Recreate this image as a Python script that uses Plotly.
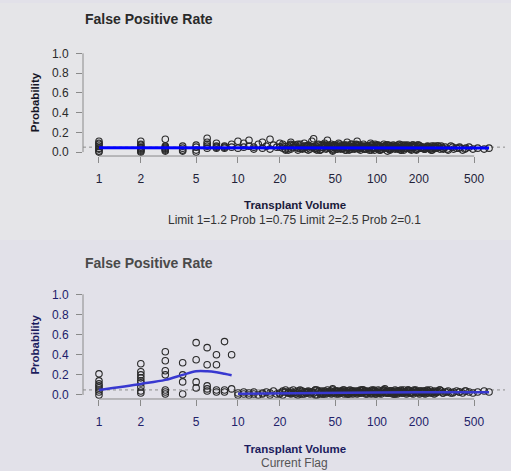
import plotly.graph_objects as go

# ---------------- data ----------------
small_volume = [1, 1, 1, 1, 1, 1, 1, 1,
                2, 2, 2, 2, 2, 2, 2, 2, 2,
                3, 3, 3, 3, 3, 3, 3,
                4, 4, 4, 4,
                5, 5, 5, 5,
                6, 6, 6, 6, 6,
                7, 7, 7, 7,
                8, 8, 8,
                9, 9]
small_rate_top = [0.11, 0.09, 0.08, 0.06, 0.04, 0.03, 0.01, 0.0,
                  0.11, 0.08, 0.07, 0.05, 0.04, 0.03, 0.02, 0.01, 0.0,
                  0.13, 0.06, 0.05, 0.04, 0.03, 0.02, 0.01,
                  0.06, 0.04, 0.02, 0.01,
                  0.07, 0.05, 0.02, 0.0,
                  0.14, 0.10, 0.08, 0.06, 0.04,
                  0.09, 0.06, 0.05, 0.04,
                  0.06, 0.05, 0.04,
                  0.08, 0.05]
small_rate_bottom = [0.21, 0.14, 0.11, 0.09, 0.07, 0.05, 0.03, 0.0,
                     0.31, 0.23, 0.20, 0.17, 0.14, 0.12, 0.08, 0.04, 0.02,
                     0.43, 0.34, 0.24, 0.20, 0.05, 0.03, 0.01,
                     0.32, 0.20, 0.13, 0.01,
                     0.52, 0.35, 0.13, 0.07,
                     0.47, 0.30, 0.09, 0.06, 0.04,
                     0.40, 0.30, 0.05, 0.03,
                     0.53, 0.05, 0.03,
                     0.40, 0.06]

cloud_volume_a = [10, 10, 11, 11, 12, 12, 13, 13, 14, 15,
                  15, 16, 17, 17, 18, 19, 20, 21, 21, 22,
                  23, 24, 24, 25, 26, 27, 27, 28, 29, 30,
                  31, 32, 33, 34, 35, 36, 37, 38, 39, 40,
                  41, 42, 43, 44, 45, 46, 47, 48, 49, 50,
                  52, 53, 55, 56, 58, 59, 61, 62, 64, 66,
                  68, 70, 72, 74, 76, 78, 80, 82, 85, 87,
                  90, 93, 96, 99, 102, 105, 108, 112, 115, 119,
                  123, 127, 131, 135, 140, 145, 150, 155, 160, 166,
                  172, 178, 185, 192, 199, 206, 214, 222, 231, 240,
                  250, 260, 272, 284, 297, 310, 325, 340, 356, 374,
                  393, 413, 436, 460, 490, 530, 590, 640]
cloud_rate_top_a = [0.11, 0.04, 0.09, 0.05, 0.12, 0.06, 0.05, 0.03, 0.08, 0.04,
                    0.10, 0.06, 0.13, 0.03, 0.07, 0.05, 0.09, 0.04, 0.08, 0.02,
                    0.06, 0.10, 0.03, 0.07, 0.05, 0.08, 0.02, 0.06, 0.04, 0.09,
                    0.05, 0.07, 0.03, 0.11, 0.135, 0.06, 0.04, 0.08, 0.02, 0.07,
                    0.05, 0.09, 0.03, 0.12, 0.06, 0.04, 0.08, 0.01, 0.05, 0.07,
                    0.03, 0.09, 0.06, 0.04, 0.07, 0.02, 0.10, 0.05, 0.03, 0.08,
                    0.06, 0.04, 0.11, 0.07, 0.02, 0.05, 0.08, 0.03, 0.06, 0.04,
                    0.09, 0.05, 0.02, 0.07, 0.04, 0.06, 0.03, 0.08, 0.05, 0.01,
                    0.06, 0.04, 0.07, 0.03, 0.05, 0.08, 0.02, 0.06, 0.04, 0.07,
                    0.03, 0.05, 0.06, 0.02, 0.07, 0.04, 0.05, 0.03, 0.06, 0.04,
                    0.02, 0.05, 0.06, 0.03, 0.04, 0.05, 0.02, 0.06, 0.03, 0.04,
                    0.05, 0.02, 0.04, 0.05, 0.03, 0.04, 0.03, 0.04]
cloud_rate_bottom_a = [0.02, 0.0, 0.03, 0.01, 0.0, 0.02, 0.01, 0.03, 0.0, 0.02,
                       0.01, 0.03, 0.0, 0.02, 0.04, 0.01, 0.02, 0.03, 0.0, 0.05,
                       0.02, 0.01, 0.04, 0.02, 0.03, 0.0, 0.02, 0.05, 0.01, 0.03,
                       0.02, 0.04, 0.01, 0.03, 0.02, 0.05, 0.0, 0.03, 0.02, 0.04,
                       0.01, 0.03, 0.02, 0.05, 0.02, 0.04, 0.01, 0.03, 0.02, 0.04,
                       0.03, 0.01, 0.04, 0.02, 0.05, 0.03, 0.01, 0.02, 0.04, 0.03,
                       0.02, 0.04, 0.01, 0.03, 0.05, 0.02, 0.03, 0.04, 0.01, 0.03,
                       0.02, 0.04, 0.03, 0.01, 0.05, 0.02, 0.03, 0.04, 0.02, 0.03,
                       0.04, 0.02, 0.03, 0.05, 0.01, 0.03, 0.04, 0.02, 0.03, 0.04,
                       0.02, 0.03, 0.05, 0.03, 0.02, 0.04, 0.03, 0.01, 0.04, 0.03,
                       0.02, 0.04, 0.03, 0.05, 0.02, 0.03, 0.04, 0.02, 0.03, 0.04,
                       0.03, 0.02, 0.04, 0.03, 0.02, 0.03, 0.04, 0.03]

cloud_volume_b = [23, 26, 29, 31, 34, 37, 41, 44, 47, 51,
                  54, 57, 60, 63, 67, 71, 75, 79, 84, 88,
                  92, 97, 101, 106, 111, 117, 122, 128, 134, 141,
                  148, 156, 164, 173, 182, 193, 204, 217, 230, 245,
                  265, 290, 320, 350, 390, 430]
cloud_rate_top_b = [0.04, 0.07, 0.03, 0.06, 0.05, 0.02, 0.07, 0.04, 0.06, 0.03,
                    0.06, 0.04, 0.07, 0.02, 0.05, 0.08, 0.04, 0.06, 0.03, 0.05,
                    0.07, 0.04, 0.06, 0.02, 0.05, 0.07, 0.03, 0.05, 0.06, 0.04,
                    0.02, 0.06, 0.04, 0.05, 0.07, 0.03, 0.06, 0.04, 0.05, 0.02,
                    0.04, 0.06, 0.03, 0.05, 0.04, 0.03]
cloud_rate_bottom_b = [0.03, 0.01, 0.04, 0.02, 0.03, 0.05, 0.01, 0.03, 0.02, 0.04,
                       0.02, 0.05, 0.03, 0.01, 0.04, 0.02, 0.03, 0.05, 0.02, 0.03,
                       0.04, 0.01, 0.03, 0.02, 0.05, 0.03, 0.02, 0.04, 0.01, 0.03,
                       0.03, 0.05, 0.02, 0.04, 0.01, 0.03, 0.04, 0.02, 0.05, 0.03,
                       0.02, 0.04, 0.03, 0.02, 0.03, 0.04]

cloud_volume_c = [20, 22, 24, 27, 30, 32, 35, 38, 40, 43,
                  46, 49, 52, 55, 58, 62, 65, 69, 73, 77,
                  81, 86, 91, 95, 100, 104, 110, 116, 121, 126,
                  132, 138, 144, 152, 158, 168, 176, 188, 198, 210,
                  220, 236, 255, 275, 300]
cloud_rate_top_c = [0.05, 0.03, 0.08, 0.04, 0.06, 0.02, 0.05, 0.07, 0.03, 0.06,
                    0.04, 0.07, 0.05, 0.03, 0.06, 0.04, 0.08, 0.03, 0.05, 0.06,
                    0.03, 0.05, 0.07, 0.04, 0.06, 0.02, 0.05, 0.04, 0.07, 0.03,
                    0.05, 0.06, 0.03, 0.04, 0.07, 0.05, 0.03, 0.06, 0.04, 0.05,
                    0.03, 0.05, 0.04, 0.06, 0.03]
cloud_rate_bottom_c = [0.01, 0.03, 0.02, 0.04, 0.01, 0.03, 0.02, 0.04, 0.03, 0.01,
                       0.03, 0.02, 0.04, 0.03, 0.01, 0.04, 0.02, 0.03, 0.04, 0.02,
                       0.03, 0.04, 0.02, 0.05, 0.03, 0.02, 0.04, 0.03, 0.02, 0.04,
                       0.02, 0.03, 0.04, 0.02, 0.03, 0.05, 0.02, 0.04, 0.03, 0.02,
                       0.04, 0.02, 0.03, 0.04, 0.02]

cloud_volume_d = [21, 23, 25, 28, 31, 33, 36, 39, 42, 45,
                  48, 51, 54, 57, 60, 64, 67, 71, 74, 78,
                  83, 88, 92, 97, 103, 107, 113, 118, 124, 130,
                  136, 142, 149, 156, 163, 170, 180, 190, 202, 215,
                  228, 242, 258, 270, 282]
cloud_rate_top_d = [0.06, 0.02, 0.05, 0.08, 0.03, 0.06, 0.04, 0.02, 0.07, 0.05,
                    0.03, 0.06, 0.08, 0.04, 0.02, 0.06, 0.05, 0.07, 0.03, 0.05,
                    0.06, 0.02, 0.04, 0.08, 0.05, 0.03, 0.06, 0.07, 0.02, 0.05,
                    0.04, 0.07, 0.05, 0.02, 0.06, 0.04, 0.07, 0.03, 0.06, 0.04,
                    0.05, 0.03, 0.06, 0.04, 0.05]
cloud_rate_bottom_d = [0.04, 0.02, 0.05, 0.01, 0.03, 0.02, 0.05, 0.01, 0.04, 0.02,
                       0.05, 0.01, 0.03, 0.04, 0.02, 0.05, 0.01, 0.03, 0.02, 0.05,
                       0.01, 0.03, 0.05, 0.02, 0.04, 0.01, 0.05, 0.02, 0.04, 0.01,
                       0.04, 0.02, 0.05, 0.03, 0.01, 0.04, 0.02, 0.05, 0.01, 0.04,
                       0.02, 0.05, 0.01, 0.03, 0.05]

cloud_volume_e = [24, 28, 32, 36, 40, 44, 48, 53, 57, 62,
                  66, 70, 75, 80, 86, 91, 96, 102, 108, 114,
                  120, 127, 134, 142, 150, 158, 167, 177, 186, 196,
                  208, 218, 232, 248, 262]
cloud_rate_top_e = [0.07, 0.04, 0.06, 0.03, 0.05, 0.07, 0.02, 0.04, 0.06, 0.05,
                    0.03, 0.07, 0.05, 0.04, 0.06, 0.02, 0.05, 0.07, 0.03, 0.06,
                    0.04, 0.06, 0.05, 0.03, 0.07, 0.04, 0.06, 0.02, 0.05, 0.07,
                    0.04, 0.03, 0.05, 0.06, 0.04]
cloud_rate_bottom_e = [0.02, 0.04, 0.03, 0.0, 0.02, 0.03, 0.06, 0.02, 0.03, 0.01,
                       0.04, 0.03, 0.02, 0.05, 0.03, 0.01, 0.04, 0.02, 0.03, 0.06,
                       0.02, 0.03, 0.01, 0.04, 0.02, 0.03, 0.05, 0.02, 0.04, 0.03,
                       0.03, 0.02, 0.04, 0.02, 0.03]

smooth_top_volume = [1, 2, 5, 10, 20, 50, 100, 200, 640]
smooth_top_rate = [0.043, 0.043, 0.044, 0.044, 0.044, 0.043, 0.043, 0.042, 0.041]

smooth_low_volume = [1, 2, 3, 4, 5, 6, 7, 8, 9]
smooth_low_rate = [0.05, 0.11, 0.15, 0.20, 0.235, 0.235, 0.225, 0.21, 0.195]
smooth_high_volume = [10, 20, 50, 100, 200, 400, 640]
smooth_high_rate = [0.013, 0.018, 0.022, 0.024, 0.026, 0.027, 0.028]

reference_rate = 0.05
x_tick_values = [1, 2, 5, 10, 20, 50, 100, 200, 500]
x_tick_labels = ["1", "2", "5", "10", "20", "50", "100", "200", "500"]
y_tick_values = [0, 0.2, 0.4, 0.6, 0.8, 1.0]
y_tick_labels = ["0.0", "0.2", "0.4", "0.6", "0.8", "1.0"]

panel_titles = ["False Positive Rate", "False Positive Rate"]
x_title = "Transplant Volume"
y_title = "Probability"
subtitles = ["Limit 1=1.2 Prob 1=0.75 Limit 2=2.5 Prob 2=0.1", "Current Flag"]

# ---------------- layout helpers ----------------
W, H = 511, 471
FONT = "Liberation Sans, Arial, sans-serif"
PAPER = "#e2e1e9"


def px(x):
    return x / W


def py(y):
    return 1 - y / H


fig = go.Figure()

marker_style = dict(symbol="circle-open", size=6.5, color="#2a2a2a", line=dict(width=1.1, color="#2a2a2a"))

all_volume = small_volume + cloud_volume_a + cloud_volume_b + cloud_volume_c + cloud_volume_d + cloud_volume_e
all_top = small_rate_top + cloud_rate_top_a + cloud_rate_top_b + cloud_rate_top_c + cloud_rate_top_d + cloud_rate_top_e
all_bottom = (small_rate_bottom + cloud_rate_bottom_a + cloud_rate_bottom_b + cloud_rate_bottom_c
              + cloud_rate_bottom_d + cloud_rate_bottom_e)

# top panel
fig.add_trace(go.Scatter(x=all_volume, y=all_top,
                         mode="markers", marker=marker_style, xaxis="x", yaxis="y",
                         hoverinfo="skip"))
fig.add_trace(go.Scatter(x=smooth_top_volume, y=smooth_top_rate, mode="lines",
                         line=dict(color="#0000ff", width=3), xaxis="x", yaxis="y",
                         hoverinfo="skip"))
# bottom panel
fig.add_trace(go.Scatter(x=all_volume, y=all_bottom,
                         mode="markers", marker=marker_style, xaxis="x2", yaxis="y2",
                         hoverinfo="skip"))
fig.add_trace(go.Scatter(x=smooth_low_volume, y=smooth_low_rate, mode="lines",
                         line=dict(color="#3838d0", width=2.5, shape="spline"),
                         xaxis="x2", yaxis="y2", hoverinfo="skip"))
fig.add_trace(go.Scatter(x=smooth_high_volume, y=smooth_high_rate, mode="lines",
                         line=dict(color="#3838d0", width=2.5),
                         xaxis="x2", yaxis="y2", hoverinfo="skip"))

x_dom = [px(83), px(505)]
x_range = [-0.115, 2.921]
top_dom = [py(155.0), py(47.0)]
bot_dom = [py(401.1), py(291.0)]

tick_col = "#8a8a8a"


def xaxis(anchor, color):
    return dict(type="log", domain=x_dom, range=x_range, anchor=anchor,
                tickmode="array", tickvals=x_tick_values, ticktext=x_tick_labels,
                ticks="outside", ticklen=6, tickwidth=1, tickcolor=tick_col,
                showgrid=False, zeroline=False, showline=False,
                tickfont=dict(family=FONT, size=12, color=color),
                ticklabelstandoff=6, fixedrange=True)


def yaxis(anchor, dom, color):
    return dict(domain=dom, range=[-0.04, 1.04], anchor=anchor,
                tickmode="array", tickvals=y_tick_values, ticktext=y_tick_labels,
                ticks="outside", ticklen=6, tickwidth=1, tickcolor=tick_col,
                showgrid=False, zeroline=False, showline=False,
                tickfont=dict(family=FONT, size=12, color=color),
                ticklabelstandoff=5, fixedrange=True)


shapes = []
# faint lighter band behind the upper area
shapes.append(dict(type="rect", xref="paper", yref="paper", x0=0, x1=1, y0=py(240), y1=1,
                   fillcolor="#e5e5e8", line=dict(width=0), layer="below"))
for xr, yr in (("x", "y"), ("x2", "y2")):
    # axis lines spanning the tick range (R style)
    shapes.append(dict(type="line", xref=xr, yref=yr + " domain",
                       x0=x_tick_values[0], x1=x_tick_values[-1], y0=0, y1=0,
                       line=dict(color=tick_col, width=1)))
    shapes.append(dict(type="line", xref=xr + " domain", yref=yr,
                       x0=0, x1=0, y0=y_tick_values[0], y1=y_tick_values[-1],
                       line=dict(color=tick_col, width=1)))
    # reference line
    shapes.append(dict(type="line", xref=xr + " domain", yref=yr,
                       x0=0, x1=1, y0=reference_rate, y1=reference_rate,
                       line=dict(color="#8c8c8c", width=1, dash="dot"), layer="below"))

annotations = []
title_cols = ["#2a2a2a", "#4a4a4a"]
ytitle_cols = ["#151525", "#1c1c5e"]
xtitle_cols = ["#1a1a3a", "#1c1c5e"]
sub_cols = ["#333333", "#555555"]
title_y = [16, 263]
ytitle_y = [100.5, 346]
xtitle_y = [205, 451.5]
sub_y = [220, 466]
for i in range(2):
    annotations.append(dict(text="<b>" + panel_titles[i] + "</b>", xref="paper", yref="paper",
                            x=px(148.5), y=py(title_y[i]), xanchor="center", yanchor="middle",
                            showarrow=False, font=dict(family=FONT, size=14, color=title_cols[i])))
    annotations.append(dict(text="<b>" + y_title + "</b>", xref="paper", yref="paper",
                            x=px(35), y=py(ytitle_y[i]), xanchor="center", yanchor="middle",
                            textangle=-90, showarrow=False,
                            font=dict(family=FONT, size=11.5, color=ytitle_cols[i])))
    annotations.append(dict(text="<b>" + x_title + "</b>", xref="paper", yref="paper",
                            x=px(294.5), y=py(xtitle_y[i]), xanchor="center", yanchor="middle",
                            showarrow=False, font=dict(family=FONT, size=11.5, color=xtitle_cols[i])))
    annotations.append(dict(text=subtitles[i], xref="paper", yref="paper",
                            x=px(294), y=py(sub_y[i]), xanchor="center", yanchor="middle",
                            showarrow=False, font=dict(family=FONT, size=12, color=sub_cols[i])))

fig.update_layout(
    width=W, height=H, autosize=False,
    margin=dict(l=0, r=0, t=0, b=0),
    paper_bgcolor=PAPER, plot_bgcolor="rgba(0,0,0,0)",
    showlegend=False,
    xaxis=xaxis("y", "#222238"),
    yaxis=yaxis("x", top_dom, "#2a2a2a"),
    xaxis2=xaxis("y2", "#22226a"),
    yaxis2=yaxis("x2", bot_dom, "#1c1c6a"),
    shapes=shapes,
    annotations=annotations,
)

fig.write_html("out.html", config={"displayModeBar": False, "staticPlot": True},
               post_script="document.body.style.margin='0';"
                           "document.body.style.overflow='hidden';"
                           "document.body.style.background='" + PAPER + "';")
